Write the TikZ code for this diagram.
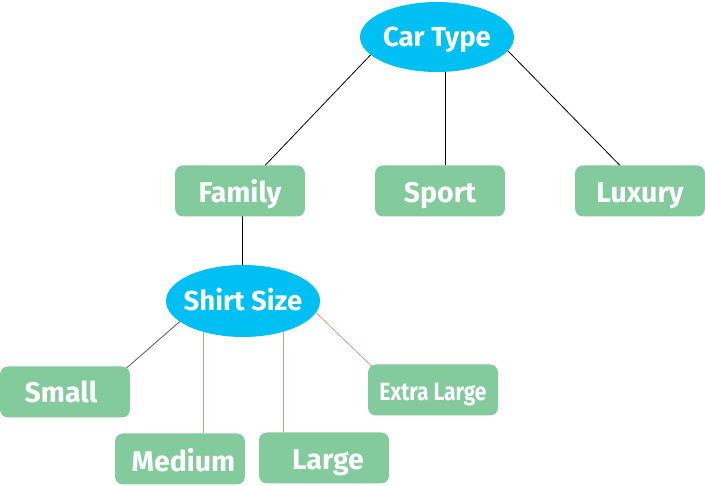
\documentclass[tikz,border=0pt]{standalone}
\usepackage{fontspec}
\setmainfont{Fira Sans}
\newfontfamily\narrowfont{Fira Sans}[FakeStretch=0.84]
\usepackage{tikz}
\usetikzlibrary{shapes.geometric}
\usetikzlibrary{positioning}
\usetikzlibrary{backgrounds}
\definecolor{ovalblue}{RGB}{0,191,243}
\definecolor{boxgreen}{RGB}{131,202,157}
\definecolor{tanline}{RGB}{205,155,140}
\tikzset{
% Define standard node looks
oval/.style={ellipse, fill=ovalblue, draw=none, inner sep=0,
  minimum width=154pt, minimum height=70pt, text=white,
  text height=19pt, text depth=0pt,
  font=\fontsize{27.5}{30}\selectfont\bfseries},
catbox/.style={rectangle, rounded corners=8pt, fill=boxgreen, draw=none,
  minimum width=130pt, minimum height=51pt, text=white,
  text height=24pt, text depth=0pt,
  font=\fontsize{28.5}{30}\selectfont\bfseries},
link/.style={line width=0.8pt, draw=black}
}
\begin{document}
\begin{tikzpicture}[x=1pt, y=-1pt, inner sep=0, outer sep=0]
  \useasboundingbox (0,0) rectangle (705,486);

  \node[oval] (cartype) at (437, 37) {\makebox[0pt]{Car Type}};

  \node[catbox] (family) at (240, 191) {Family};
  \node[catbox] (sport) at (440, 191) {Sport};
  \node[catbox] (luxury) at (640, 191) {Luxury};

  \node[oval, minimum height=72pt] (shirt) at (243, 301) {\makebox[0pt]{Shirt Size}};

  \node[catbox, text height=22pt] (small) at (65, 392) {\hspace*{-8pt}Small};
  \node[catbox, text height=25pt] (medium) at (180, 459) {\hspace*{7pt}Medium};
  \node[catbox] (large) at (324, 458) {\hspace*{8pt}Large};
  \node[catbox, text height=21.5pt, font=\narrowfont\fontsize{25}{28}\selectfont\bfseries] (xlarge) at (433, 390) {Extra Large};

  \begin{scope}[on background layer]
    % car type branches
    \draw[link] (cartype.195) -- ([xshift=25pt]family.north);
    \draw[link] ([xshift=5pt]sport.north) -- ([xshift=5pt]sport.north |- cartype.center);
    \draw[link] (cartype.349) -- ([xshift=-20pt]luxury.north);
    \draw[link] ([xshift=2pt]family.south) -- ([xshift=2pt]family.south |- shirt.center);

    % shirt size branches
    \draw[link, draw=black!65] (shirt.198) -- ([xshift=-4pt, yshift=-2pt]small.north east);
    \draw[link, draw=tanline] ([xshift=23pt]medium.north) -- ([xshift=23pt]medium.north |- shirt.center);
    \draw[link, draw=tanline] ([xshift=-41pt]large.north) -- ([xshift=-41pt]large.north |- shirt.center);
    \draw[link, draw=tanline] (shirt.351) -- ([xshift=4pt, yshift=-2pt]xlarge.north west);
  \end{scope}
\end{tikzpicture}
\end{document}
